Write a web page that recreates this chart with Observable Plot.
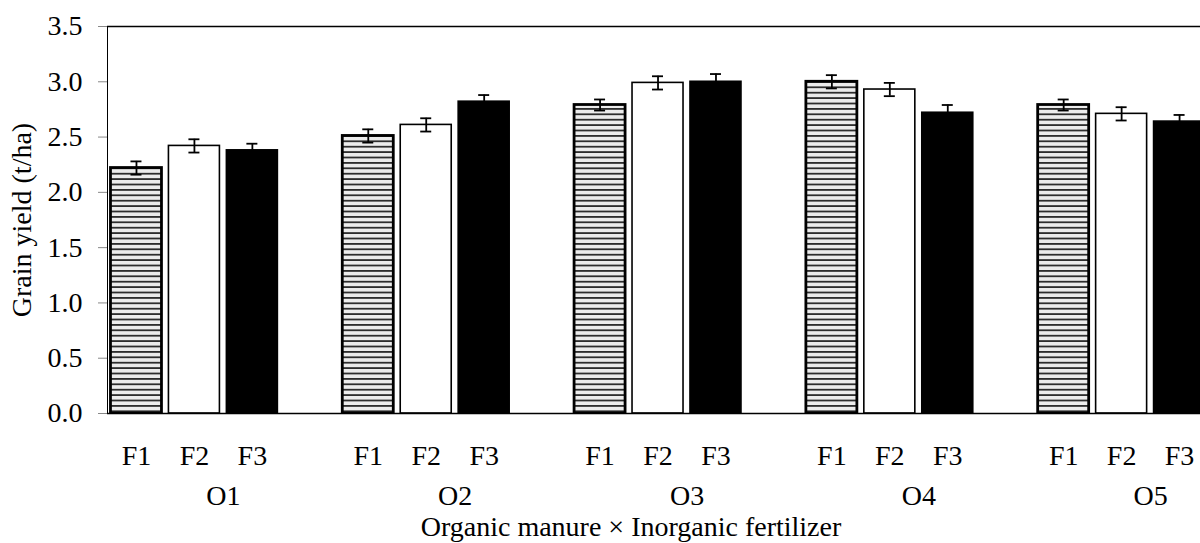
<!DOCTYPE html>
<html>
<head>
<meta charset="utf-8">
<script src="https://cdn.jsdelivr.net/npm/d3@7"></script>
<script src="https://cdn.jsdelivr.net/npm/@observablehq/plot@0.6"></script>
<style>
  html, body { margin: 0; padding: 0; background: white; overflow: hidden; }
  #chart svg { display: block; }
  #chart svg text, #chart svg g[aria-label] { font-family: 'Liberation Serif', 'Times New Roman', serif !important; font-variant-numeric: normal !important; }
  [aria-label="y-axis tick"] { stroke: #888; }
</style>
</head>
<body>
<div id="chart"></div>
<script>
// ---- data ----
const groups = ["O1", "O2", "O3", "O4", "O5"];
const fertilizers = ["F1", "F2", "F3"];
const yieldF1 = [2.22, 2.51, 2.79, 3.00, 2.79];
const yieldF2 = [2.42, 2.61, 2.99, 2.93, 2.71];
const yieldF3 = [2.38, 2.82, 3.00, 2.72, 2.64];
const errF1 = [0.06, 0.06, 0.05, 0.06, 0.05];
const errF2 = [0.06, 0.06, 0.06, 0.06, 0.06];
const errF3 = [0.06, 0.06, 0.07, 0.07, 0.06];
const yTicks = [0, 0.5, 1.0, 1.5, 2.0, 2.5, 3.0, 3.5];
const yLabel = "Grain yield (t/ha)";
const xTitle = "Organic manure \u00d7 Inorganic fertilizer";

// ---- table built from the arrays ----
const series = {F1: [yieldF1, errF1], F2: [yieldF2, errF2], F3: [yieldF3, errF3]};
const rows = [];
groups.forEach((g, i) => fertilizers.forEach(f => {
  rows.push({group: g, fert: f, slot: g + "|" + f, value: series[f][0][i], err: series[f][1][i]});
}));
// each group: three bars plus an empty slot
const slots = groups.flatMap(g => [...fertilizers.map(f => g + "|" + f), g + "|"]);

const defsMark = () => {
  const defs = d3.create("svg:defs");
  const p = defs.append("pattern")
    .attr("id", "hstripes")
    .attr("patternUnits", "userSpaceOnUse")
    .attr("width", 10).attr("height", 5.4);
  p.append("rect").attr("width", 10).attr("height", 5.4).attr("fill", "#ececec");
  p.append("rect").attr("y", 0).attr("width", 10).attr("height", 1.8).attr("fill", "#2e2e2e");
  return defs.node();
};

const byF = f => rows.filter(d => d.fert === f);
const FS = 28;

const chart = Plot.plot({
  width: 1200,
  height: 543,
  marginLeft: 107,
  marginRight: 0,
  marginTop: 26,
  marginBottom: 130,
  style: {fontFamily: "'Liberation Serif', 'Times New Roman', serif", fontSize: FS + "px", background: "white", color: "black"},
  x: {
    type: "band",
    domain: slots,
    range: [107, 1266],
    round: false,
    paddingInner: 0.12,
    paddingOuter: 0.06,
    tickSize: 0,
    tickPadding: 32,
    tickFormat: d => d.split("|")[1],
    line: true,
    label: null
  },
  y: {
    domain: [0, 3.5],
    ticks: yTicks,
    tickFormat: d => d.toFixed(1),
    tickSize: 9,
    tickPadding: 16,
    line: true,
    label: null
  },
  marks: [
    defsMark,
    Plot.ruleY([3.5], {stroke: "black", strokeWidth: 1.5}),
    Plot.barY(byF("F1"), {x: "slot", y: "value", fill: "url(#hstripes)", stroke: "black", strokeWidth: 2.8, clip: true}),
    Plot.barY(byF("F2"), {x: "slot", y: "value", fill: "white", stroke: "black", strokeWidth: 1.6, clip: true}),
    Plot.barY(byF("F3"), {x: "slot", y: "value", fill: "black", stroke: "black", strokeWidth: 1.6, clip: true}),
    Plot.ruleX(rows, {x: "slot", y1: d => d.value - d.err, y2: d => d.value + d.err, stroke: "black", strokeWidth: 1.8, clip: true}),
    Plot.tickY(rows, {x: "slot", y: d => d.value + d.err, insetLeft: 20, insetRight: 20, stroke: "black", strokeWidth: 1.8, clip: true}),
    Plot.tickY(rows, {x: "slot", y: d => d.value - d.err, insetLeft: 20, insetRight: 20, stroke: "black", strokeWidth: 1.8, clip: true}),
    Plot.ruleY([0], {stroke: "black", strokeWidth: 1.5}),
    Plot.text(groups, {x: g => g + "|F2", text: d => d, frameAnchor: "bottom", dx: 29, dy: 83, lineAnchor: "middle", fontSize: FS, fill: "black"}),
    Plot.text([xTitle], {text: d => d, frameAnchor: "bottom", textAnchor: "middle", dx: -23, dy: 114, lineAnchor: "middle", fontSize: FS, fill: "black"}),
    Plot.text([yLabel], {text: d => d, frameAnchor: "left", textAnchor: "middle", dx: -85, rotate: -90, lineAnchor: "middle", fontSize: FS, fill: "black"})
  ]
});
document.getElementById("chart").appendChild(chart);
</script>
</body>
</html>
